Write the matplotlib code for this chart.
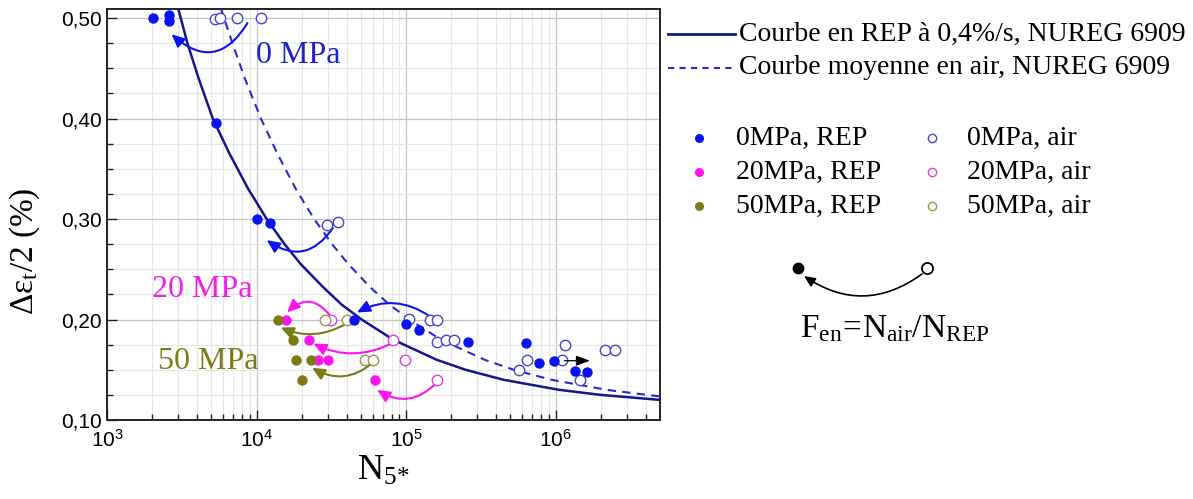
import math

import matplotlib
matplotlib.use("Agg")
import matplotlib.pyplot as plt
from matplotlib.patches import FancyArrowPatch
from matplotlib.lines import Line2D
from matplotlib.ticker import FixedLocator, MultipleLocator, FuncFormatter, NullFormatter

plt.rcParams['font.family'] = ['Liberation Serif', 'DejaVu Serif']
plt.rcParams['mathtext.fontset'] = 'custom'
plt.rcParams['mathtext.rm'] = 'Liberation Serif'
plt.rcParams['mathtext.it'] = 'Liberation Serif:italic'
plt.rcParams['mathtext.sf'] = 'Liberation Sans'

# NUREG 6909 curves
rep_curve_n = [3.0e3, 3.45e3, 4.1e3, 5.1e3, 6.6e3, 8.8e3, 1.17e4, 1.54e4, 1.98e4, 2.8e4,
               3.7e4, 5.05e4, 8.2e4, 1.6e5, 2.5e5, 4.5e5, 1.06e6, 2.0e6, 5.0e6]
rep_curve_eps = [0.509, 0.475, 0.44, 0.40, 0.365, 0.33, 0.30, 0.275, 0.255, 0.232,
                 0.215, 0.20, 0.18, 0.16, 0.15, 0.14, 0.13, 0.125, 0.12]
air_curve_n = [5.76e3, 6.9e3, 8.35e3, 1.07e4, 1.38e4, 1.83e4, 2.43e4, 3.2e4, 4.12e4, 5.77e4,
               7.72e4, 1.05e5, 1.71e5, 3.35e5, 5.25e5, 9.4e5, 2.2e6, 4.1e6, 5.0e6]
air_curve_eps = [0.51, 0.475, 0.44, 0.40, 0.365, 0.33, 0.30, 0.275, 0.255, 0.232,
                 0.215, 0.20, 0.18, 0.16, 0.15, 0.14, 0.13, 0.125, 0.1235]

# test points
rep0_n = [2.03e3, 2.6e3, 2.6e3, 5.4e3, 1.0e4, 1.23e4, 4.5e4, 1.0e5, 1.22e5, 2.6e5,
          6.3e5, 7.8e5, 9.7e5, 1.35e6, 1.63e6]
rep0_eps = [0.50, 0.503, 0.497, 0.396, 0.30, 0.296, 0.20, 0.196, 0.19, 0.178,
            0.177, 0.157, 0.159, 0.149, 0.148]
air0_n = [5.3e3, 5.7e3, 7.4e3, 1.08e4, 2.95e4, 3.5e4, 1.05e5, 1.44e5, 1.62e5, 1.6e5,
          1.86e5, 2.08e5, 5.7e5, 6.4e5, 1.1e6, 1.16e6, 1.45e6, 2.13e6, 2.5e6]
air0_eps = [0.499, 0.50, 0.50, 0.50, 0.294, 0.297, 0.201, 0.20, 0.20, 0.178,
            0.18, 0.18, 0.15, 0.16, 0.16, 0.175, 0.14, 0.17, 0.17]
rep20_n = [1.57e4, 2.25e4, 2.59e4, 3.02e4, 6.2e4]
rep20_eps = [0.20, 0.18, 0.16, 0.16, 0.14]
air20_n = [3.13e4, 8.2e4, 9.8e4, 1.6e5]
air20_eps = [0.20, 0.18, 0.16, 0.14]
rep50_n = [1.39e4, 1.76e4, 1.85e4, 2.33e4, 2.03e4]
rep50_eps = [0.20, 0.18, 0.16, 0.16, 0.14]
air50_n = [2.86e4, 4.0e4, 5.3e4, 6.0e4]
air50_eps = [0.20, 0.20, 0.16, 0.16]

# Fen arrows: (N start, eps start, N end, eps end, rad, colour key)
fen_arrows = [
    (8.7e3, 0.495, 2.7e3, 0.484, -0.6, '0'),
    (3.24e4, 0.291, 1.17e4, 0.279, -0.5, '0'),
    (1.45e5, 0.203, 4.7e4, 0.207, 0.3, '0'),
    (3.1e4, 0.204, 1.6e4, 0.207, 0.55, '20'),
    (4.0e4, 0.196, 1.45e4, 0.192, -0.25, '50'),
    (8.2e4, 0.177, 2.4e4, 0.176, -0.25, '20'),
    (6.0e4, 0.157, 2.35e4, 0.152, -0.35, '50'),
    (1.6e5, 0.137, 6.4e4, 0.13, -0.4, '20'),
]

col_rep = {'0': '#0a14f0', '20': '#ff14f0', '50': '#7d7a14'}
col_air = {'0': '#4646c8', '20': '#e040e0', '50': '#9a9650'}
col_txt = {'0': '#2020cc', '20': '#f020e8', '50': '#807a18'}
navy = '#16168a'
dblue = '#2a2ad2'

fig = plt.figure(figsize=(11.93, 4.99), dpi=100)
ax = fig.add_axes([107 / 1193, 1 - 420 / 499, 553 / 1193, 411 / 499])

ax.plot(rep_curve_n, rep_curve_eps, color=navy, lw=1.8, zorder=3)
ax.plot(air_curve_n, air_curve_eps, color=dblue, lw=1.5, ls=(0, (4, 3)), zorder=3)

for x0, y0, x1, y1, rad, k in fen_arrows:
    ax.add_patch(FancyArrowPatch((x0, y0), (x1, y1), connectionstyle=f"arc3,rad={rad}",
                                 arrowstyle='-|>,head_length=0.55,head_width=0.25',
                                 mutation_scale=14, color=col_rep[k], lw=1.5,
                                 shrinkA=0, shrinkB=0, zorder=4))

ax.add_patch(FancyArrowPatch((1.15e6, 0.159), (1.7e6, 0.159),
                             arrowstyle='-|>,head_length=0.6,head_width=0.22',
                             mutation_scale=14, color='black', lw=0.9,
                             shrinkA=0, shrinkB=0, zorder=6))

ms = 7.5
ax.plot(air0_n, air0_eps, 'o', ms=ms, mfc='white', mec=col_air['0'], mew=1.0, zorder=5)
ax.plot(air20_n, air20_eps, 'o', ms=ms, mfc='white', mec=col_air['20'], mew=1.0, zorder=5)
ax.plot(air50_n, air50_eps, 'o', ms=ms, mfc='white', mec=col_air['50'], mew=1.0, zorder=5)
ax.plot(rep0_n, rep0_eps, 'o', ms=ms, color=col_rep['0'], mew=0, zorder=5)
ax.plot(rep20_n, rep20_eps, 'o', ms=ms, color=col_rep['20'], mew=0, zorder=5)
ax.plot(rep50_n, rep50_eps, 'o', ms=ms, color=col_rep['50'], mew=0, zorder=5)

ax.text(9.9e3, 0.463, '0 MPa', color=col_txt['0'], fontsize=23, va='center', ha='left')
ax.text(2.0e3, 0.230, '20 MPa', color=col_txt['20'], fontsize=23, va='center', ha='left')
ax.text(2.2e3, 0.158, '50 MPa', color=col_txt['50'], fontsize=23, va='center', ha='left')

ax.set_xscale('log')
ax.set_xlim(1e3, 5e6)
ax.set_ylim(0.10, 0.509)
ax.xaxis.set_major_locator(FixedLocator([1e3, 1e4, 1e5, 1e6]))
ax.xaxis.set_minor_locator(FixedLocator([m * 10 ** e for e in range(3, 7) for m in range(2, 10)
                                         if m * 10 ** e < 5e6]))
ax.xaxis.set_minor_formatter(NullFormatter())
ax.xaxis.set_major_formatter(FuncFormatter(lambda v, p: r'$\mathsf{10^{%d}}$' % round(math.log10(v))))
ax.yaxis.set_major_locator(MultipleLocator(0.1))
ax.yaxis.set_minor_locator(MultipleLocator(0.025))
ax.yaxis.set_major_formatter(FuncFormatter(lambda v, p: f"{v:.2f}".replace('.', ',')))

ax.grid(True, which='major', color='#c4c4c4', lw=0.9, zorder=0)
ax.grid(True, which='minor', color='#e6e6e6', lw=0.8, zorder=0)
ax.set_axisbelow(True)
ax.tick_params(which='both', direction='in', top=False, right=False, labelsize=15,
               width=1.0, color='#222222')
ax.tick_params(which='major', length=7)
ax.tick_params(which='minor', length=4)
for lab in ax.get_yticklabels():
    lab.set_family(['Liberation Sans', 'DejaVu Sans'])
ax.tick_params(axis='x', pad=7)
for s in ax.spines.values():
    s.set_linewidth(1.4)
    s.set_color('#222222')

ax.set_xlabel(r'$\mathrm{N_{5\!*}}$', fontsize=26)
ax.xaxis.set_label_coords(0.5, -0.085)
ax.xaxis.label.set_va('top')
ax.set_ylabel(r'$\mathrm{\Delta\varepsilon_t/2\ (\%)}$', fontsize=24)
ax.yaxis.set_label_coords(-0.118, 0.41)

# legend drawn by hand on the right
def fx(px):
    return px / 1193


def fy(py):
    return 1 - py / 499


fig.add_artist(Line2D([fx(668), fx(735)], [fy(34), fy(34)], color=navy, lw=2, transform=fig.transFigure))
fig.add_artist(Line2D([fx(668), fx(735)], [fy(68), fy(68)], color=dblue, lw=1.5, ls=(0, (3, 2.5)),
                      transform=fig.transFigure))
fig.text(fx(739), fy(34), 'Courbe en REP à 0,4%/s, NUREG 6909', fontsize=20, va='center', ha='left')
fig.text(fx(739), fy(68), 'Courbe moyenne en air, NUREG 6909', fontsize=20, va='center', ha='left')

leg_rows = [('0', '0MPa, REP', '0MPa, air'), ('20', '20MPa, REP', '20MPa, air'),
            ('50', '50MPa, REP', '50MPa, air')]
for i, (k, lrep, lair) in enumerate(leg_rows):
    yy = fy(138 + 34 * i)
    fig.add_artist(Line2D([fx(699)], [yy], marker='o', ms=6.5, color=col_rep[k], mew=0,
                          transform=fig.transFigure))
    fig.add_artist(Line2D([fx(932)], [yy], marker='o', ms=6, mfc='white', mec=col_air[k], mew=1.0,
                          transform=fig.transFigure))
    fig.text(fx(736), yy, lrep, fontsize=20, va='center', ha='left')
    fig.text(fx(967), yy, lair, fontsize=20, va='center', ha='left')

fig.add_artist(Line2D([fx(798)], [fy(268)], marker='o', ms=8.5, color='black', mew=0,
                      transform=fig.transFigure))
fig.add_artist(Line2D([fx(927)], [fy(268)], marker='o', ms=8, mfc='white', mec='black', mew=1.3,
                      transform=fig.transFigure))
fig.add_artist(FancyArrowPatch((fx(922), fy(274)), (fx(804), fy(276)), connectionstyle="arc3,rad=-0.35",
                               arrowstyle='-|>,head_length=0.55,head_width=0.25', mutation_scale=12,
                               color='black', lw=1.2, shrinkA=0, shrinkB=0, transform=fig.transFigure))
fig.text(fx(800), fy(337), r'$\mathrm{F_{en}\!=\!N_{air}/N_{REP}}$', fontsize=24, va='baseline', ha='left')

fig.savefig('out.png', dpi=100)
